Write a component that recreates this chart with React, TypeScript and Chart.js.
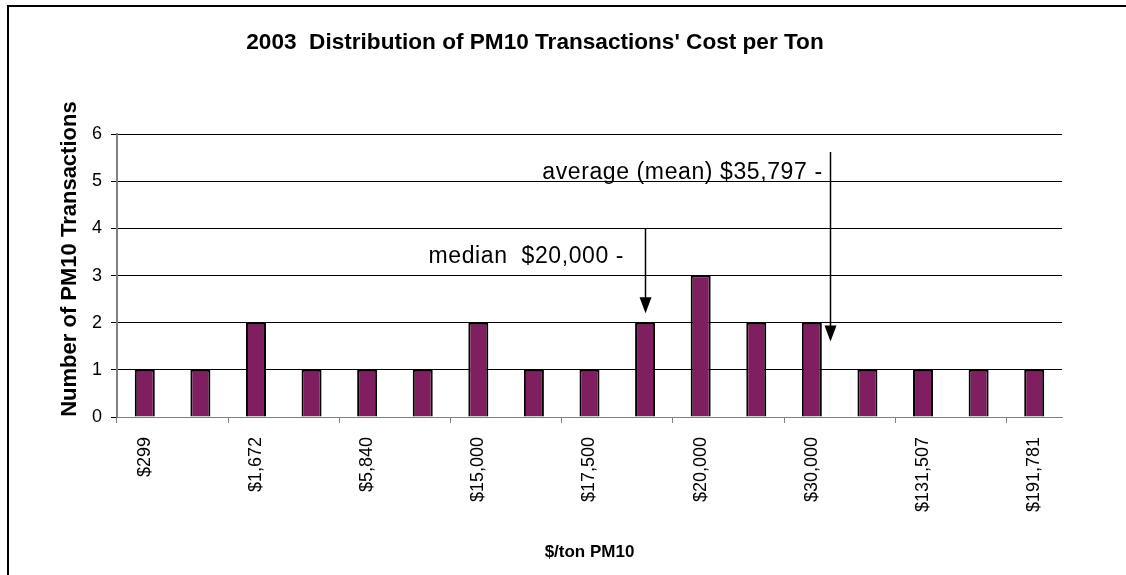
import React, { useEffect, useRef } from 'react';
import { Chart, registerables } from 'chart.js';

Chart.register(...registerables);

// ---- data ----
const chartTitle = "2003  Distribution of PM10 Transactions' Cost per Ton";
const xAxisTitle = '$/ton PM10';
const yAxisTitle = 'Number of PM10 Transactions';
// only every other category label is printed in the original chart
const shownCostLabels = ['$299', '$1,672', '$5,840', '$15,000', '$17,500', '$20,000', '$30,000', '$131,507', '$191,781'];
const transactionCounts = [1, 1, 2, 1, 1, 1, 2, 1, 1, 2, 3, 2, 2, 1, 1, 1, 1];
const yMin = 0;
const yMax = 6;
const yStep = 1;

const medianLabel = 'median  $20,000 -';
const meanLabel = 'average (mean) $35,797 -';
// annotation anchors in data units (category index, count)
const medianCategory = 9;
const medianArrow = [4, 2.2];
const medianTextY = 3.26;
const meanCategory = 12.32;
const meanArrow = [5.62, 1.6];
const meanTextY = 5.05;
// y-axis title centre, in count units
const yTitleCenter = 3.35;

const categoryLabels = transactionCounts.map((_, i) => (i % 2 === 0 ? shownCostLabels[i / 2] : ''));

const FONT = '"Liberation Sans", Arial, sans-serif';

const frameAndNotes = {
  id: 'frameAndNotes',
  beforeDraw(chart: any) {
    const { ctx, width, height } = chart;
    ctx.save();
    ctx.fillStyle = '#ffffff';
    ctx.fillRect(0, 0, width, height);
    ctx.strokeStyle = '#000000';
    ctx.lineWidth = 2;
    ctx.beginPath();
    ctx.moveTo(8, height + 2);
    ctx.lineTo(8, 6);
    ctx.lineTo(width + 2, 6);
    ctx.stroke();
    ctx.restore();
  },
  afterDatasetsDraw(chart: any) {
    const { ctx } = chart;
    const x = chart.scales.x;
    const y = chart.scales.y;
    const arrow = (cat: number, from: number, to: number) => {
      const px = Math.round(x.getPixelForValue(cat)) + 0.5;
      const y0 = y.getPixelForValue(from);
      const y1 = y.getPixelForValue(to);
      ctx.save();
      ctx.strokeStyle = '#000';
      ctx.fillStyle = '#000';
      ctx.lineWidth = 1.5;
      ctx.beginPath();
      ctx.moveTo(px, y0);
      ctx.lineTo(px, y1 - 14);
      ctx.stroke();
      ctx.beginPath();
      ctx.moveTo(px - 6, y1 - 16);
      ctx.lineTo(px + 6, y1 - 16);
      ctx.lineTo(px, y1);
      ctx.closePath();
      ctx.fill();
      ctx.restore();
    };
    arrow(medianCategory, medianArrow[0], medianArrow[1]);
    arrow(meanCategory, meanArrow[0], meanArrow[1]);

    ctx.save();
    ctx.fillStyle = '#000';
    ctx.font = `23px ${FONT}`;
    try {
      (ctx as any).letterSpacing = '0.6px';
    } catch (e) {}
    ctx.textAlign = 'right';
    ctx.textBaseline = 'alphabetic';
    ctx.fillText(medianLabel, x.getPixelForValue(medianCategory) - 21, y.getPixelForValue(medianTextY));
    ctx.fillText(meanLabel, x.getPixelForValue(meanCategory) - 7, y.getPixelForValue(meanTextY));
    ctx.restore();

    // y-axis title
    ctx.save();
    ctx.fillStyle = '#000';
    ctx.font = `bold 22px ${FONT}`;
    ctx.textAlign = 'center';
    ctx.textBaseline = 'middle';
    ctx.translate(y.left + 62, y.getPixelForValue(yTitleCenter));
    ctx.rotate(-Math.PI / 2);
    ctx.fillText(yAxisTitle, 0, 0);
    ctx.restore();
  },
};

export default function App() {
  const ref = useRef<HTMLCanvasElement | null>(null);
  useEffect(() => {
    if (!ref.current) return;
    const chart = new Chart(ref.current, {
      type: 'bar',
      data: {
        labels: categoryLabels,
        datasets: [
          {
            data: transactionCounts,
            backgroundColor: '#7F1F5F',
            borderColor: '#000000',
            borderWidth: 2,
            categoryPercentage: 1,
            barPercentage: 0.36,
          },
        ],
      },
      options: {
        responsive: false,
        animation: false,
        devicePixelRatio: 1,
        layout: { padding: { left: 8, right: 64, top: 8, bottom: 0 } },
        plugins: {
          legend: { display: false },
          tooltip: { enabled: false },
          title: {
            display: true,
            text: chartTitle,
            color: '#000',
            font: { family: FONT, size: 22.6, weight: 'bold' },
            padding: { top: 21, bottom: 78 },
          },
        },
        scales: {
          x: {
            afterFit(scale: any) {
              scale.height = 158;
            },
            grid: {
              offset: true,
              drawOnChartArea: false,
              drawTicks: true,
              tickLength: 6,
              color: (c: any) => (c.index % 2 === 0 ? '#808080' : 'rgba(0,0,0,0)'),
              tickColor: (c: any) => (c.index % 2 === 0 ? '#808080' : 'rgba(0,0,0,0)'),
            },
            border: { display: true, color: '#808080', width: 1 },
            ticks: {
              autoSkip: false,
              maxRotation: 90,
              minRotation: 90,
              padding: 14,
              color: '#000',
              font: { family: FONT, size: 18 },
            },
            title: {
              display: true,
              text: xAxisTitle,
              color: '#000',
              font: { family: FONT, size: 17, weight: 'bold' },
              padding: { top: 0, bottom: 12 },
            },
          },
          y: {
            min: yMin,
            max: yMax,
            afterFit(scale: any) {
              scale.width = 109;
            },
            grid: {
              color: '#000000',
              lineWidth: 1,
              drawTicks: true,
              tickLength: 6,
              tickColor: '#000000',
            },
            border: { display: true, color: '#808080', width: 2 },
            ticks: {
              stepSize: yStep,
              padding: 9,
              color: '#000',
              font: { family: FONT, size: 18 },
            },
            title: { display: false },
          },
        },
      },
      plugins: [frameAndNotes],
    } as any);
    return () => chart.destroy();
  }, []);

  return (
    <div style={{ position: 'absolute', left: 0, top: 0, width: 1126, height: 575, overflow: 'hidden' }}>
      <canvas ref={ref} width={1126} height={575} style={{ display: 'block' }} />
    </div>
  );
}
